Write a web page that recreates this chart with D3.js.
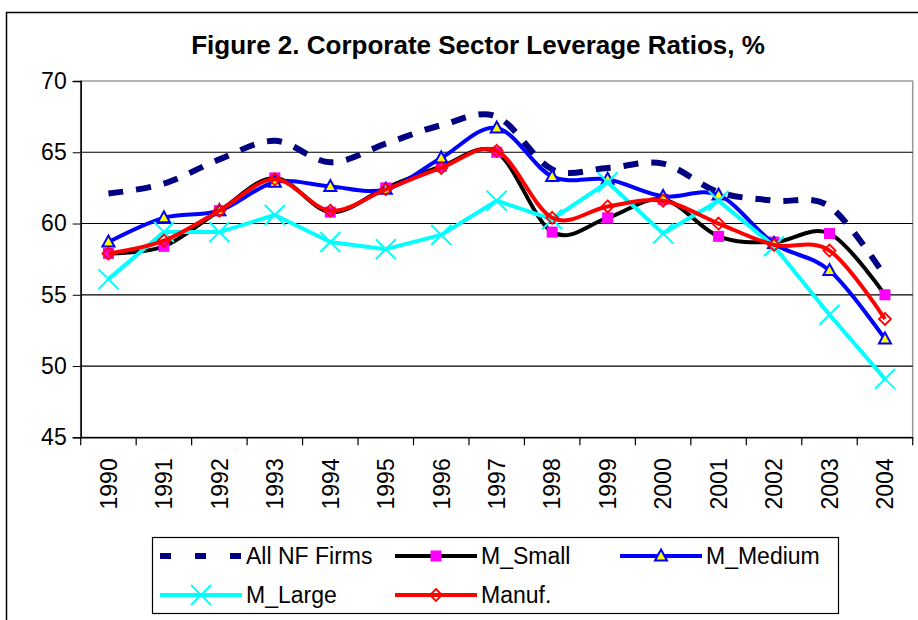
<!DOCTYPE html>
<html>
<head>
<meta charset="utf-8">
<script src="https://cdn.jsdelivr.net/npm/d3@7"></script>
<style>
  body { margin: 0; background: #fff; }
  svg { display: block; font-family: "Liberation Sans", Arial, sans-serif; }
</style>
</head>
<body>
<script>
var years = ["1990","1991","1992","1993","1994","1995","1996","1997","1998","1999","2000","2001","2002","2003","2004"];
var yTicks = [45, 50, 55, 60, 65, 70];

var allNF   = [62.1, 62.8, 64.5, 65.8, 64.3, 65.6, 66.9, 67.5, 63.8, 63.9, 64.2, 62.2, 61.6, 61.2, 56.3];
var mSmall  = [57.9, 58.4, 60.9, 63.2, 60.8, 62.5, 64.0, 65.0, 59.4, 60.4, 61.7, 59.1, 58.7, 59.3, 55.0];
var mMedium = [58.7, 60.4, 60.9, 62.9, 62.6, 62.4, 64.6, 66.7, 63.3, 63.1, 61.9, 62.0, 58.6, 56.7, 51.9];
var mLarge  = [56.1, 59.4, 59.4, 60.6, 58.7, 58.2, 59.2, 61.6, 60.3, 62.9, 59.3, 61.6, 58.4, 53.6, 49.1];
var manuf   = [57.9, 58.8, 60.9, 63.1, 60.9, 62.4, 63.9, 65.1, 60.4, 61.2, 61.6, 60.0, 58.5, 58.1, 53.3];

var W = 918, H = 620;
var plotL = 80.7, plotR = 912.7, plotT = 81, plotB = 437.3;

var svg = d3.select("body").append("svg")
    .attr("width", W).attr("height", H);

svg.append("rect").attr("width", W).attr("height", H).attr("fill", "#fff");

// outer chart frame
svg.append("rect")
    .attr("x", 6.5).attr("y", 12.5).attr("width", 940).attr("height", 650)
    .attr("fill", "none").attr("stroke", "#000").attr("stroke-width", 1.5);

svg.append("text")
    .attr("x", 478).attr("y", 54)
    .attr("text-anchor", "middle")
    .style("font-size", "26px").style("font-weight", "bold")
    .text("Figure 2. Corporate Sector Leverage Ratios, %");

var x = d3.scaleBand().domain(years).range([plotL, plotR]);
var y = d3.scaleLinear().domain([45, 70]).range([plotB, plotT]);
var cx = function(i) { return x(years[i]) + x.bandwidth() / 2; };

// plot border + gridlines
svg.append("rect")
    .attr("x", plotL).attr("y", plotT).attr("width", plotR - plotL).attr("height", plotB - plotT)
    .attr("fill", "none").attr("stroke", "#999").attr("stroke-width", 1.5);

svg.selectAll("line.grid").data([50, 55, 60, 65])
  .enter().append("line").attr("class", "grid")
    .attr("x1", plotL).attr("x2", plotR)
    .attr("y1", function(d) { return y(d); }).attr("y2", function(d) { return y(d); })
    .attr("stroke", "#000").attr("stroke-width", 1.2);

// y axis
var yAxis = svg.append("g")
    .attr("transform", "translate(" + plotL + ",0)")
    .call(d3.axisLeft(y).tickValues(yTicks).tickSize(8).tickPadding(6));
yAxis.select(".domain").attr("stroke-width", 1.5);
yAxis.selectAll("text").style("font-size", "23px").attr("fill", "#000");

// x axis: labels at centres, ticks between categories
var xAxis = svg.append("g")
    .attr("transform", "translate(0," + plotB + ")")
    .call(d3.axisBottom(x).tickSize(0));
xAxis.select(".domain").attr("stroke-width", 1.5);
xAxis.selectAll("text")
    .style("font-size", "23px").attr("fill", "#000")
    .attr("text-anchor", "end")
    .attr("transform", "rotate(-90)")
    .attr("x", -21).attr("y", 0).attr("dy", "0.36em");

svg.append("g").selectAll("line").data(years.concat(["end"]))
  .enter().append("line")
    .attr("x1", function(d) { return d === "end" ? plotR : x(d); })
    .attr("x2", function(d) { return d === "end" ? plotR : x(d); })
    .attr("y1", plotB).attr("y2", plotB + 8)
    .attr("stroke", "#000").attr("stroke-width", 1.2);

var smooth = d3.curveCardinal.tension(0);

var series = [
  { name: "All NF Firms", values: allNF,   color: "#000080", width: 6, dash: "15,13", curve: smooth, marker: "none" },
  { name: "M_Small",      values: mSmall,  color: "#000000", width: 4, curve: smooth, marker: "square" },
  { name: "M_Medium",     values: mMedium, color: "#0000ff", width: 4, curve: smooth, marker: "triangle" },
  { name: "M_Large",      values: mLarge,  color: "#00ffff", width: 4, curve: d3.curveLinear, marker: "x" },
  { name: "Manuf.",       values: manuf,   color: "#ff0000", width: 4, curve: smooth, marker: "diamond" }
];

function drawMarker(g, type, px, py) {
  if (type === "square") {
    g.append("rect").attr("x", px - 5.5).attr("y", py - 5.5).attr("width", 11).attr("height", 11)
      .attr("fill", "#ff00ff");
  } else if (type === "triangle") {
    g.append("path").attr("d", "M" + px + "," + (py - 6.5) + "L" + (px + 6) + "," + (py + 4.5) + "L" + (px - 6) + "," + (py + 4.5) + "Z")
      .attr("fill", "#ffff00").attr("stroke", "#0000ff").attr("stroke-width", 2);
  } else if (type === "x") {
    g.append("path").attr("d", "M" + (px - 10) + "," + (py - 10) + "L" + (px + 10) + "," + (py + 10) +
        "M" + (px + 10) + "," + (py - 10) + "L" + (px - 10) + "," + (py + 10))
      .attr("stroke", "#00ffff").attr("stroke-width", 2).attr("fill", "none");
  } else if (type === "diamond") {
    g.append("path").attr("d", "M" + px + "," + (py - 6) + "L" + (px + 6) + "," + py + "L" + px + "," + (py + 6) + "L" + (px - 6) + "," + py + "Z")
      .attr("fill", "none").attr("stroke", "#ff0000").attr("stroke-width", 1.8);
  }
}

series.forEach(function(s) {
  var line = d3.line()
      .x(function(d, i) { return cx(i); })
      .y(function(d) { return y(d); })
      .curve(s.curve);
  svg.append("path").datum(s.values)
      .attr("d", line)
      .attr("fill", "none")
      .attr("stroke", s.color)
      .attr("stroke-width", s.width)
      .attr("stroke-dasharray", s.dash || null)
      .attr("stroke-linejoin", "round");
  var g = svg.append("g");
  s.values.forEach(function(v, i) { drawMarker(g, s.marker, cx(i), y(v)); });
});

// legend
var legend = svg.append("g");
legend.append("rect")
    .attr("x", 152.5).attr("y", 537.5).attr("width", 686).attr("height", 76)
    .attr("fill", "#fff").attr("stroke", "#000").attr("stroke-width", 1.2);

var slots = [[160, 556], [395, 556], [620, 556], [160, 595], [395, 595]];
series.forEach(function(s, i) {
  var sx = slots[i][0], sy = slots[i][1];
  legend.append("line")
      .attr("x1", sx).attr("x2", sx + 82).attr("y1", sy).attr("y2", sy)
      .attr("stroke", s.color).attr("stroke-width", s.width)
      .attr("stroke-dasharray", s.dash ? "11,24" : null);
  drawMarker(legend, s.marker, sx + 41, sy);
  legend.append("text")
      .attr("x", sx + 86).attr("y", sy).attr("dy", "0.36em")
      .style("font-size", "23px")
      .text(s.name);
});
</script>
</body>
</html>
